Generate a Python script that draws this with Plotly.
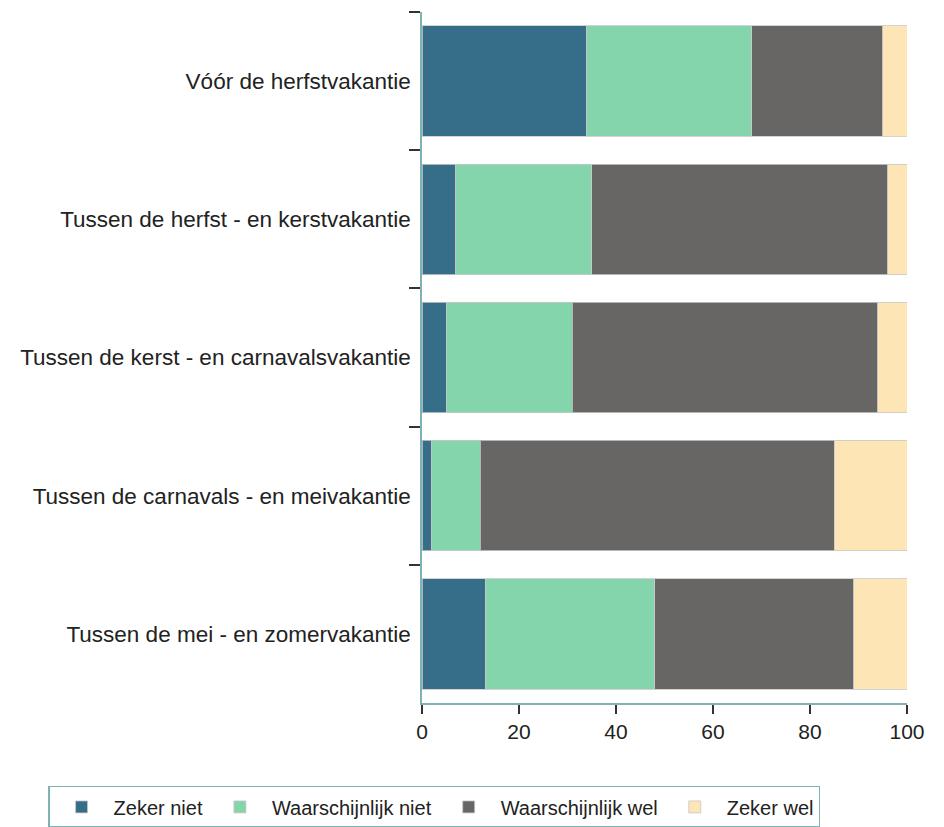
import plotly.graph_objects as go

periods = [
    "Vóór de herfstvakantie",
    "Tussen de herfst - en kerstvakantie",
    "Tussen de kerst - en carnavalsvakantie",
    "Tussen de carnavals - en meivakantie",
    "Tussen de mei - en zomervakantie",
]
zeker_niet = [34, 7, 5, 2, 13]
waarschijnlijk_niet = [34, 28, 26, 10, 35]
waarschijnlijk_wel = [27, 61, 63, 73, 41]
zeker_wel = [5, 4, 6, 15, 11]

series = [
    ("Zeker niet", zeker_niet, "#366e8a"),
    ("Waarschijnlijk niet", waarschijnlijk_niet, "#84d5ab"),
    ("Waarschijnlijk wel", waarschijnlijk_wel, "#686664"),
    ("Zeker wel", zeker_wel, "#fde5b5"),
]

fig = go.Figure()
for name, vals, col in series:
    fig.add_trace(go.Bar(
        y=periods, x=vals, name=name, orientation="h",
        marker=dict(color=col, line=dict(color="rgba(200,200,200,0.8)", width=1)),
    ))

axis_col = "#7fb2b2"
fig.update_layout(
    barmode="stack",
    bargap=0.2,
    width=936, height=819,
    margin=dict(l=414, r=37, t=4, b=124, autoexpand=False),
    plot_bgcolor="white",
    paper_bgcolor="white",
    font=dict(family="Liberation Sans, Arial, sans-serif", color="#222222"),
    showlegend=True,
    legend=dict(
        orientation="h", x=-0.771, xanchor="left", y=-0.12, yanchor="top",
        bordercolor=axis_col, borderwidth=1.5,
        font=dict(size=20), traceorder="normal", itemwidth=54,
    ),
)
fig.update_xaxes(
    range=[0, 100], tickvals=[0, 20, 40, 60, 80, 100],
    showline=True, linecolor=axis_col, linewidth=1.5,
    ticks="outside", ticklen=9, tickcolor="#333333", tickwidth=1.5,
    showgrid=False, zeroline=False,
    tickfont=dict(size=21),
)
fig.update_yaxes(
    categoryorder="array", categoryarray=periods, autorange="reversed",
    showline=True, linecolor=axis_col, linewidth=1.5,
    ticks="outside", ticklen=11, tickcolor="#333333", tickwidth=1.5,
    tickson="boundaries", showgrid=False,
    tickfont=dict(size=22.5),
    ticklabelstandoff=5,
)

fig.write_html("out.html")
